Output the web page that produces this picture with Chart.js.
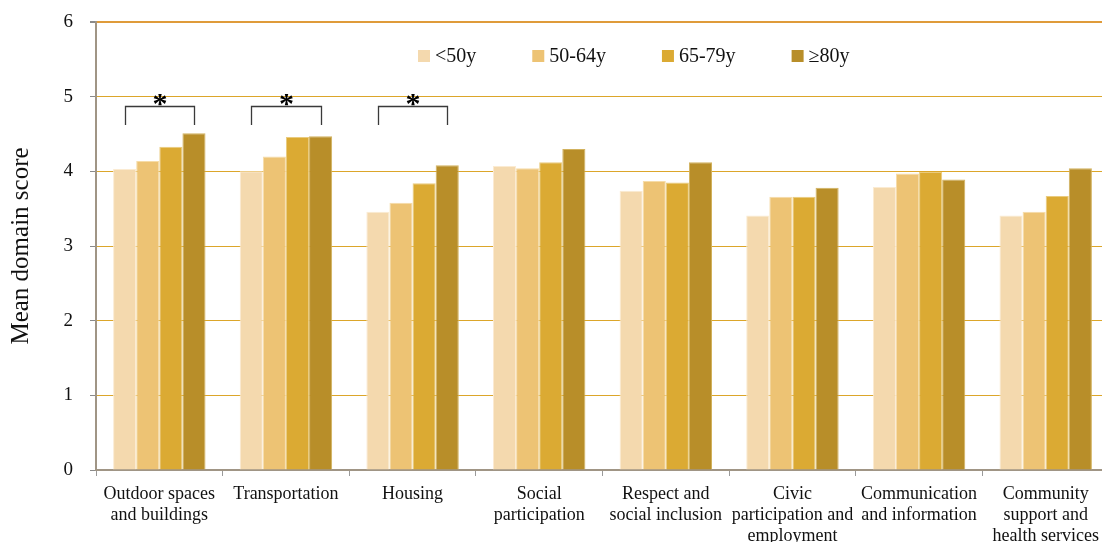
<!DOCTYPE html>
<html>
<head>
<meta charset="utf-8">
<script src="https://cdn.jsdelivr.net/npm/chart.js@4/dist/chart.umd.min.js"></script>
<style>
  html, body { margin: 0; padding: 0; background: #fff; overflow: hidden; }
  #wrap { width: 1112px; height: 542px; }
</style>
</head>
<body>
<div id="wrap"><canvas id="chart" width="1112" height="542"></canvas></div>
<script>
// Age-friendly domains and mean scores per age group
const categories = [
  ['Outdoor spaces', 'and buildings'],
  ['Transportation'],
  ['Housing'],
  ['Social', 'participation'],
  ['Respect and', 'social inclusion'],
  ['Civic', 'participation and', 'employment'],
  ['Communication', 'and information'],
  ['Community', 'support and', 'health services']
];
const ageGroups = ['<50y', '50-64y', '65-79y', '\u226580y'];
const under50   = [4.03, 4.00, 3.46, 4.07, 3.74, 3.41, 3.79, 3.41];
const age50to64 = [4.14, 4.20, 3.58, 4.04, 3.87, 3.66, 3.97, 3.46];
const age65to79 = [4.33, 4.46, 3.84, 4.12, 3.85, 3.66, 3.99, 3.67];
const age80plus = [4.51, 4.47, 4.08, 4.30, 4.12, 3.78, 3.89, 4.04];
const yTicks = [0, 1, 2, 3, 4, 5, 6];
// domains with a significant age trend
const significant = [0, 1, 2];

const colors = ['#F4D9AE', '#EDC374', '#DBAA33', '#B88E29'];
const edges  = ['#FBEBD2', '#F6DCA8', '#EACB7E', '#D2B25E'];
const FONT = "'Liberation Serif', 'Times New Roman', serif";

const series = [under50, age50to64, age65to79, age80plus];

// legend drawn inside the plot area
const legendPlugin = {
  id: 'innerLegend',
  afterDraw(chart) {
    const ctx = chart.ctx;
    ctx.save();
    ctx.font = '20px ' + FONT;
    ctx.textBaseline = 'alphabetic';
    let x = 418;
    const y = 62;
    chart.data.datasets.forEach((ds) => {
      ctx.fillStyle = ds.backgroundColor;
      ctx.fillRect(x, y - 12, 12, 12);
      ctx.fillStyle = '#111';
      ctx.fillText(ds.label, x + 17, y);
      x += 17 + ctx.measureText(ds.label).width + 56;
    });
    ctx.restore();
  }
};

// significance brackets over the marked domains
const bracketPlugin = {
  id: 'sigBrackets',
  afterDatasetsDraw(chart) {
    const ctx = chart.ctx;
    const yScale = chart.scales.y;
    const first = chart.getDatasetMeta(0);
    const last = chart.getDatasetMeta(chart.data.datasets.length - 1);
    ctx.save();
    ctx.strokeStyle = '#3a3a3a';
    ctx.lineWidth = 1.3;
    ctx.fillStyle = '#000';
    ctx.font = 'bold 30px ' + FONT;
    ctx.textAlign = 'center';
    ctx.textBaseline = 'alphabetic';
    significant.forEach((i) => {
      const x1 = Math.round(first.data[i].x) + 0.5;
      const x2 = Math.round(last.data[i].x) + 0.5;
      const yTop = Math.round(yScale.getPixelForValue(4.87)) + 0.5;
      const yLeg = yScale.getPixelForValue(4.62);
      ctx.beginPath();
      ctx.moveTo(x1, yLeg);
      ctx.lineTo(x1, yTop);
      ctx.lineTo(x2, yTop);
      ctx.lineTo(x2, yLeg);
      ctx.stroke();
      ctx.fillText('*', (x1 + x2) / 2, yTop + 6);
    });
    ctx.restore();
  }
};

new Chart(document.getElementById('chart'), {
  type: 'bar',
  data: {
    labels: categories,
    datasets: series.map((values, k) => ({
      label: ageGroups[k],
      data: values,
      backgroundColor: colors[k],
      borderColor: edges[k],
      borderWidth: 1,
      categoryPercentage: 0.73,
      barPercentage: 1.0
    }))
  },
  options: {
    responsive: false,
    animation: false,
    layout: { padding: { top: 22, right: 3, left: 0, bottom: 0 } },
    plugins: {
      legend: { display: false },
      tooltip: { enabled: false }
    },
    scales: {
      x: {
        offset: true,
        grid: {
          offset: true,
          drawOnChartArea: false,
          drawTicks: true,
          tickLength: 6,
          color: '#9a9a9a',
          lineWidth: 1
        },
        border: { display: true, color: '#A09585', width: 2 },
        ticks: {
          color: '#111',
          font: { family: FONT, size: 18, lineHeight: 1.17 },
          padding: 8,
          maxRotation: 0,
          autoSkip: false
        },
        afterFit(scale) { scale.height = 72; }
      },
      y: {
        min: 0,
        max: 6,
        afterBuildTicks(scale) { scale.ticks = yTicks.map(v => ({ value: v })); },
        grid: {
          color: (c) => (c.tick && c.tick.value === 6 ? '#DF9B3A' : '#DCA62A'),
          lineWidth: (c) => (c.tick && c.tick.value === 6 ? 2 : 1),
          tickColor: '#8a8a8a',
          tickLength: 6
        },
        border: { display: true, color: '#A09585', width: 2 },
        ticks: {
          color: '#111',
          font: { family: FONT, size: 19 },
          padding: 17
        },
        title: {
          display: true,
          text: 'Mean domain score',
          color: '#111',
          font: { family: FONT, size: 25 },
          padding: { top: 6, bottom: 0 }
        },
        afterFit(scale) {
          scale.width = 96;
          scale.paddingTop = 0;
          scale.paddingBottom = 0;
        }
      }
    }
  },
  plugins: [legendPlugin, bracketPlugin]
});
</script>
</body>
</html>
